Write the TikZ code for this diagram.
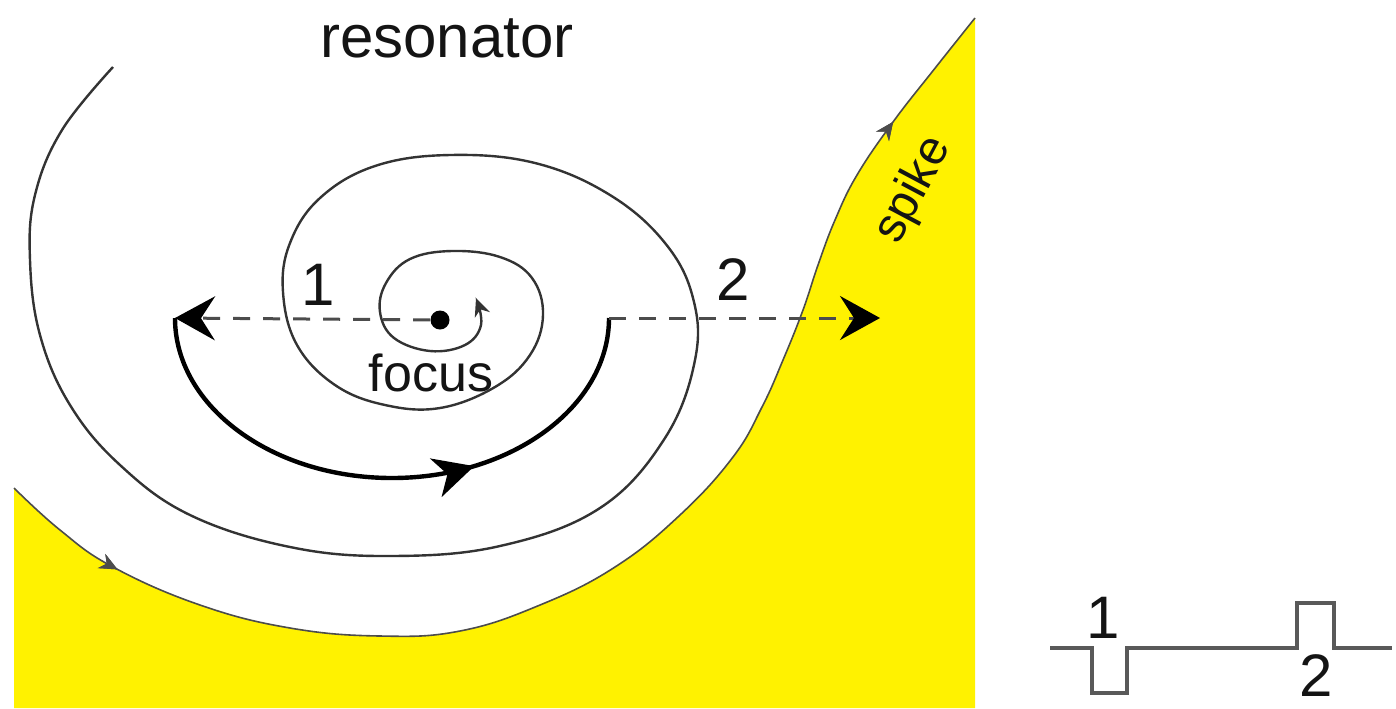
\documentclass[tikz,border=0pt]{standalone}
\usepackage{fontspec}
\setmainfont{Liberation Sans}
\usetikzlibrary{arrows.meta,decorations.markings}

\begin{document}
\begin{tikzpicture}[x=0.5pt, y=-0.5pt,
    orbit/.style={draw=black!80, line width=1.2pt},
    border/.style={draw=black!70, line width=0.8pt},
    kick/.style={draw=black!70, line width=1.5pt, dash pattern=on 8.5pt off 6.5pt,
        -{Stealth[length=20pt, width=22pt, inset=7pt, color=black]}},
    jump/.style={draw=black, line width=2.2pt},
    lbl/.style={font=\fontsize{30}{36}\selectfont, text=black!92, inner sep=0pt},
    pulse/.style={draw=black!65, line width=1.6pt},
    midarrow/.style={postaction={decorate}, decoration={markings,
        mark=at position #1 with {\arrow{Stealth[length=9pt, width=8pt]}}}},
    bigarrow/.style={postaction={decorate}, decoration={markings,
        mark=at position #1 with {\arrow{Stealth[length=20pt, width=20pt, inset=6pt]}}}}
]
\useasboundingbox (0,0) rectangle (1396,708);

% spiking region
\fill[yellow] plot[smooth, tension=0.7] coordinates {(14,488) (60,530) (113,567) (200,605) (290,628) (380,636) (460,631) (540,605) (615,567) (680,515) (733,457) (762,407) (783,360) (803,310) (818,265) (835,220) (857,175) (893,122) (932,72) (975,18)}
    -- (975,708) -- (14,708) -- cycle;
\draw[border, midarrow=0.1, midarrow=0.9] plot[smooth, tension=0.7] coordinates {(14,488) (60,530) (113,567) (200,605) (290,628) (380,636) (460,631) (540,605) (615,567) (680,515) (733,457) (762,407) (783,360) (803,310) (818,265) (835,220) (857,175) (893,122) (932,72) (975,18)};

% trajectory winding onto the focus
\draw[orbit, -{Stealth[length=9pt, width=8pt]}] plot[smooth, tension=0.65] coordinates {(113,67) (62,130) (35,195) (30,260) (40,335) (70,405) (120,465) (190,515) (290,547) (390,556) (500,546) (600,508) (665,438) (695,360) (693,298) (665,243) (610,195) (535,163) (450,155) (375,166) (320,198) (290,243) (283,292) (297,345) (335,385) (385,405) (440,408) (495,387) (530,355) (543,315) (532,278) (500,257) (452,251) (410,259) (386,283) (380,312) (394,338) (430,351) (465,345) (481,325) (476,298)};

\node[circle, fill=black, inner sep=0pt, minimum size=9.5pt] (focus) at (440,320) {};
\coordinate (left) at (175,318);
\coordinate (arcend) at (609,318);
\coordinate (right) at (880,318);

\draw[kick] (focus) -- (left);
\draw[jump, bigarrow=0.64] (left) arc[start angle=180, end angle=0, x radius=217, y radius=160];
\draw[kick] (arcend) -- (right);

\node[lbl] (res) at (447,38) {resonator};
\node[lbl] (one) at (318,285) {1};
\node[lbl] (two) at (733,280) {2};
\node[lbl, font=\fontsize{26}{30}\selectfont] (foc) at (431,373) {focus};
\node[lbl, font=\fontsize{24}{28}\selectfont, rotate=62] (spk) at (914,190) {spike};

% stimulus pulses
\coordinate (p0) at (1050,648);
\coordinate (p1) at (1392,648);
\draw[pulse] (p0) -- (1092,648) -- (1092,693) -- (1127,693) -- (1127,648)
    -- (1297,648) -- (1297,603) -- (1334,603) -- (1334,648) -- (p1);
\node[lbl] (n1) at (1103,618) {1};
\node[lbl] (n2) at (1316,676) {2};
\end{tikzpicture}
\end{document}
